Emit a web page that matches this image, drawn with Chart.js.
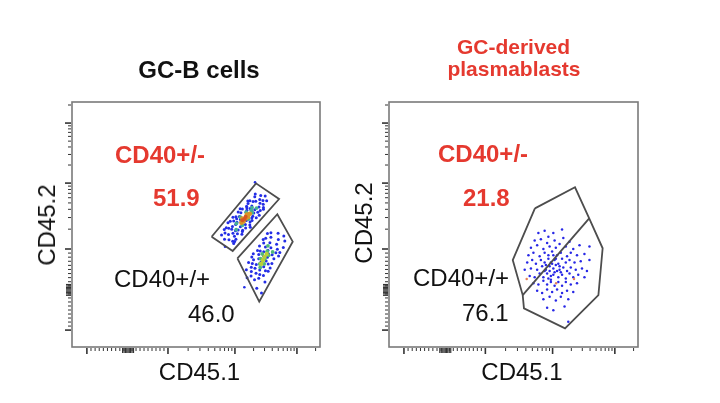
<!DOCTYPE html>
<html>
<head>
<meta charset="utf-8">
<script src="https://cdn.jsdelivr.net/npm/chart.js@4.4.0/dist/chart.umd.min.js"></script>
<style>
html, body { margin: 0; padding: 0; background: #fff; }
#wrap { position: relative; width: 720px; height: 403px; overflow: hidden;
        font-family: "Liberation Sans", Arial, Helvetica, sans-serif; }
canvas { position: absolute; top: 0; }
.t { position: absolute; white-space: nowrap; line-height: 1; color: #111; z-index: 2; }
.b { font-weight: bold; }
.red { color: #e5392f; }
.c { transform: translateX(-50%); }
.rot { transform: translate(-50%, -50%) rotate(-90deg); }
</style>
</head>
<body>
<div id="wrap">
  <canvas id="gcb" width="360" height="403" style="left:0"></canvas>
  <canvas id="pb" width="360" height="403" style="left:360px"></canvas>

  <div class="t b c" style="left:199px;top:58px;font-size:24px">GC-B cells</div>
  <div class="t b c red" style="left:513.5px;top:35.5px;font-size:21px">GC-derived</div>
  <div class="t b c red" style="left:514px;top:58.2px;font-size:21px">plasmablasts</div>

  <div class="t b red" style="left:115px;top:142.7px;font-size:24px">CD40+/-</div>
  <div class="t b red" style="left:153px;top:186.4px;font-size:24px">51.9</div>
  <div class="t" style="left:114px;top:266.7px;font-size:24px">CD40+/+</div>
  <div class="t" style="left:188px;top:301.7px;font-size:24px">46.0</div>

  <div class="t b red" style="left:438px;top:141.7px;font-size:24px">CD40+/-</div>
  <div class="t b red" style="left:463px;top:186.4px;font-size:24px">21.8</div>
  <div class="t" style="left:413px;top:266.4px;font-size:24px">CD40+/+</div>
  <div class="t" style="left:462px;top:301.4px;font-size:24px">76.1</div>

  <div class="t c" style="left:199.5px;top:359.7px;font-size:24px">CD45.1</div>
  <div class="t c" style="left:522px;top:359.7px;font-size:24px">CD45.1</div>
  <div class="t rot" style="left:47.2px;top:225px;font-size:24px">CD45.2</div>
  <div class="t rot" style="left:363.7px;top:223px;font-size:24px">CD45.2</div>
</div>

<script>
// axis positions (display units 0-100) of the biexponential decades
const xMajor = [6.0, 38.7, 65.7, 90.7];   // -10^3, 10^3, 10^4, 10^5
const xZero = 22.6;
const yMajor = [6.9, 40.0, 66.9, 91.4];
const yZero = 23.3;

// GC-B cells: CD40+/- gate population
const gcbUpperBlue = [
  [63.3,43.8],[61.7,46.5],[66.1,44.0],[62.2,48.7],[64.9,46.4],[66.7,46.2],[64.7,49.2],[68.5,46.0],
  [63.8,51.3],[67.9,49.1],[65.2,51.4],[70.0,48.6],[66.1,53.2],[71.7,49.8],[67.0,55.1],[72.6,51.6],
  [68.7,56.3],[74.3,52.8],[70.4,57.5],[74.9,55.0],[70.9,59.6],[75.4,57.1],[74.1,59.5],[77.2,56.9],
  [73.7,61.3],[77.0,59.8],[76.1,61.8],[77.9,61.6],[61.5,44.0],[63.1,45.9],[64.4,48.1],[68.7,47.1],
  [64.9,53.0],[69.9,50.0],[67.5,53.3],[71.8,51.0],[67.8,56.4],[72.9,53.4],[70.5,56.8],[75.5,53.8],
  [72.5,57.6],[71.7,59.7],[77.2,56.2],[77.1,58.3],[73.9,62.4],[64.8,43.2],[65.9,47.5],[66.0,50.0],
  [73.7,56.0],[71.9,48.9],[60.3,45.7],[65.6,43.1],[65.5,45.2],[63.2,48.5],[67.0,47.8],[68.8,47.7],
  [66.5,50.9],[66.4,52.3],[70.3,51.6],[68.1,54.8],[72.5,52.7],[70.5,55.8],[73.3,54.7],[71.0,58.6],
  [75.9,55.7],[73.0,59.4],[75.8,58.7],[75.7,60.2],[78.5,59.7],[61.4,48.0],[62.9,50.7],[67.9,52.0],
  [71.8,56.5],[65.2,42.2]
];
const gcbUpperMid = [
  [66.2,47.9],[66.3,50.4],[68.7,49.7],[67.9,53.0],[71.2,52.2],[70.2,55.0],[72.7,54.8],[72.6,56.9],
  [74.4,56.7],[68.4,51.3],[70.4,53.6],[72.3,55.8]
];
const gcbUpperCore = [
  [68.3,50.7],[68.7,52.4],[70.1,52.5],[70.5,54.1],[71.7,54.4],[69.2,51.2],[71.0,53.1]
];
const gcbUpperHot = [[68.7,51.7],[70.0,53.2],[69.6,52.2]];

// GC-B cells: CD40+/+ gate population
const gcbLowerBlue = [
  [72.2,29.0],[70.3,31.5],[75.3,28.1],[74.2,30.1],[72.3,32.6],[77.2,29.2],[71.2,34.5],[75.7,31.4],
  [74.3,33.7],[78.0,31.1],[73.2,35.6],[77.3,32.8],[76.2,34.7],[79.9,32.2],[73.1,38.1],[79.1,33.9],
  [75.3,37.8],[80.6,34.1],[74.8,39.4],[78.8,36.6],[77.3,38.9],[81.4,36.0],[75.6,41.2],[80.7,37.7],
  [78.0,40.8],[83.3,37.1],[80.2,40.5],[77.3,42.5],[82.8,39.9],[79.8,42.6],[78.1,44.4],[82.5,41.9],
  [85.2,40.6],[80.2,44.8],[83.2,43.9],[80.2,46.6],[85.8,43.3],[83.1,46.4],[72.3,30.8],[73.6,27.4],
  [72.7,34.1],[75.3,36.0],[77.2,37.1],[79.2,38.1],[78.3,35.1],[73.8,32.1],[79.0,39.5],[82.2,38.5],
  [72.5,36.7],[70.6,28.3],[78.8,46.3],[85.4,45.3],[79.1,30.9],[83.8,38.6],[75.9,39.2],[75.7,29.6],
  [77.1,43.9],[74.5,24.0],[76.4,22.0],[77.8,26.5]
];
const gcbLowerMid = [
  [75.7,33.9],[77.5,33.9],[76.0,36.1],[77.8,36.1],[76.7,38.0],[79.3,37.4],[78.7,39.1],[80.9,38.8],
  [75.9,32.5],[79.0,41.3]
];
const gcbLowerCore = [[77.0,35.4],[77.6,36.8],[78.5,38.0],[76.3,34.0]];
const gcbStray = [[61.7,40.9],[73.8,67.2],[69.5,24.4]];

// plasmablasts
const pbBlue = [
  [62.5,47.5],[66.0,46.5],[69.5,48.0],[64.0,45.0],
  [58.5,43.5],[61.0,44.0],[63.5,42.5],[66.5,43.5],[70.0,44.5],[72.5,43.0],
  [57.0,40.5],[59.5,41.5],[62.0,40.0],[64.5,41.0],[67.0,40.5],[68.5,42.0],[71.0,41.0],[74.0,40.0],[76.5,41.5],
  [56.0,37.5],[58.0,38.5],[60.5,37.0],[62.5,38.5],[64.0,37.5],[65.5,39.0],[67.5,37.5],[69.0,38.5],
  [71.5,37.0],[73.0,38.5],[75.5,37.5],[78.5,38.0],
  [55.5,34.5],[57.5,35.5],[59.0,34.0],[61.0,35.5],[62.5,34.5],[64.0,36.0],[65.0,34.5],[66.5,35.5],
  [68.0,34.0],[69.5,36.0],[71.0,34.5],[72.5,35.5],[74.5,34.5],[77.0,35.0],[80.5,35.5],
  [57.0,32.0],[59.5,31.5],[61.5,33.0],[63.0,31.5],[64.5,33.0],[66.0,32.0],[67.0,33.5],[68.5,31.5],
  [70.0,32.5],[71.5,31.0],[73.0,32.5],[75.0,31.5],[77.5,32.0],[79.5,31.0],
  [56.5,29.0],[58.5,28.5],[60.5,30.0],[62.0,28.5],[63.5,30.0],[65.0,29.0],[66.5,30.5],[68.0,28.5],
  [69.5,29.5],[71.0,28.0],[72.5,30.0],[74.0,28.5],[76.0,29.5],[78.5,28.5],
  [58.0,26.0],[60.0,25.5],[62.0,27.0],[63.5,25.5],[65.0,26.5],[66.5,25.0],[68.0,26.5],[69.5,25.0],
  [71.0,26.5],[73.0,25.5],[75.5,26.0],
  [59.5,23.0],[61.5,22.0],[63.5,23.5],[65.5,22.5],[67.5,23.5],[69.5,22.0],[71.5,23.0],[74.0,22.5],
  [62.0,19.5],[64.5,20.5],[67.0,19.0],[69.0,20.5],[72.0,19.5],
  [63.5,16.0],[66.0,15.0],[70.5,16.5],
  [72.0,10.3],[80.5,41.0],[60.0,46.5],[54.5,31.5],
  [64.5,31.0],[66.0,29.5],[67.5,31.0],[65.5,34.0],[63.0,33.5],[67.0,36.0],[64.0,28.0],[68.5,33.0],
  [62.5,31.0],[66.0,37.5],[69.0,30.5],[65.0,27.5]
];
const pbOrange = [[55.3,27.8],[74.3,27.8],[67.1,26.0]];

// gates (display units)
const gcbGatePM = [[56.3,45.0],[74.2,66.8],[83.5,60.4],[64.8,39.2]];
const gcbGatePP = [[66.7,36.2],[82.8,54.2],[89.0,43.0],[75.5,18.5]];
const pbGate = [[58.6,56.6],[74.7,65.2],[80.4,52.5],[85.8,40.3],[84.1,21.2],[70.7,7.6],
                [54.2,15.8],[53.7,21.2],[49.7,35.5]];
const pbSplit = [[80.4,52.5],[53.7,21.2]];

function tickSet(major, zero) {
  const minor = [];
  for (let i = 1; i < 10; i++) {
    minor.push(major[0] + (zero - major[0]) * i / 10);
    minor.push(zero + (major[1] - zero) * i / 10);
  }
  for (let d = 1; d < 4; d++) {
    const w = d < 3 ? major[d + 1] - major[d] : major[3] - major[2];
    for (let k = 2; k < 10; k++) {
      const v = major[d] + Math.log10(k) * w;
      if (v < 99.5) minor.push(v);
    }
  }
  const block = [-2.2, -1.6, -1.0, -0.5, 0, 0.5, 1.0, 1.6, 2.2].map(o => zero + o);
  return { major, minor, block };
}

const frame = {
  id: 'frame',
  afterDatasetsDraw(chart) {
    const { ctx, chartArea: a } = chart;
    const sx = chart.scales.x, sy = chart.scales.y;
    ctx.save();
    ctx.strokeStyle = '#7a7a7a';
    ctx.lineWidth = 1.6;
    ctx.strokeRect(a.left, a.top, a.right - a.left, a.bottom - a.top);

    ctx.strokeStyle = '#333';
    const mark = (v, len, w, onX) => {
      ctx.lineWidth = w;
      ctx.beginPath();
      if (onX) {
        const p = sx.getPixelForValue(v);
        ctx.moveTo(p, a.bottom + 1);
        ctx.lineTo(p, a.bottom + 1 + len);
      } else {
        const p = sy.getPixelForValue(v);
        ctx.moveTo(a.left - 1, p);
        ctx.lineTo(a.left - 1 - len, p);
      }
      ctx.stroke();
    };
    [[tickSet(xMajor, xZero), true], [tickSet(yMajor, yZero), false]].forEach(([t, onX]) => {
      t.minor.forEach(v => mark(v, 3, 1, onX));
      t.block.forEach(v => mark(v, 5, 1.2, onX));
      t.major.forEach(v => mark(v, 6, 1.6, onX));
    });
    ctx.restore();
  }
};

const toXY = arr => arr.map(([x, y]) => ({ x, y }));
const dots = (arr, color, r, order) => ({
  data: toXY(arr), backgroundColor: color, borderWidth: 0,
  pointRadius: r, pointHoverRadius: r, order
});
const gate = (arr, closed) => ({
  data: toXY(closed ? arr.concat([arr[0]]) : arr), showLine: true,
  borderColor: '#4d4d4d', borderWidth: 1.8, pointRadius: 0, fill: false, order: 0
});

function panel(id, pad, datasets) {
  return new Chart(document.getElementById(id), {
    type: 'scatter',
    data: { datasets },
    options: {
      responsive: false,
      animation: false,
      layout: { padding: pad },
      scales: {
        x: { type: 'linear', min: 0, max: 100, display: false },
        y: { type: 'linear', min: 0, max: 100, display: false }
      },
      plugins: { legend: { display: false }, tooltip: { enabled: false } }
    },
    plugins: [frame]
  });
}

panel('gcb', { left: 72, top: 102, right: 40, bottom: 56 }, [
  dots(gcbUpperBlue, 'rgb(35,45,230)', 1.5, 5),
  dots(gcbLowerBlue, 'rgb(35,45,230)', 1.5, 5),
  dots(gcbStray, 'rgb(35,45,230)', 1.3, 5),
  dots(gcbUpperMid, 'rgb(70,175,150)', 1.9, 4),
  dots(gcbLowerMid, 'rgb(80,185,120)', 1.9, 4),
  dots(gcbUpperCore, 'rgb(215,150,40)', 2.3, 3),
  dots(gcbLowerCore, 'rgb(185,205,55)', 2.2, 3),
  dots(gcbUpperHot, 'rgb(215,85,35)', 2.0, 2),
  gate(gcbGatePM, true),
  gate(gcbGatePP, true)
]);

panel('pb', { left: 29, top: 102, right: 82, bottom: 56 }, [
  dots(pbBlue, 'rgb(40,40,230)', 1.25, 5),
  dots(pbOrange, 'rgb(230,130,90)', 1.25, 4),
  gate(pbGate, true),
  gate(pbSplit, false)
]);
</script>
</body>
</html>
